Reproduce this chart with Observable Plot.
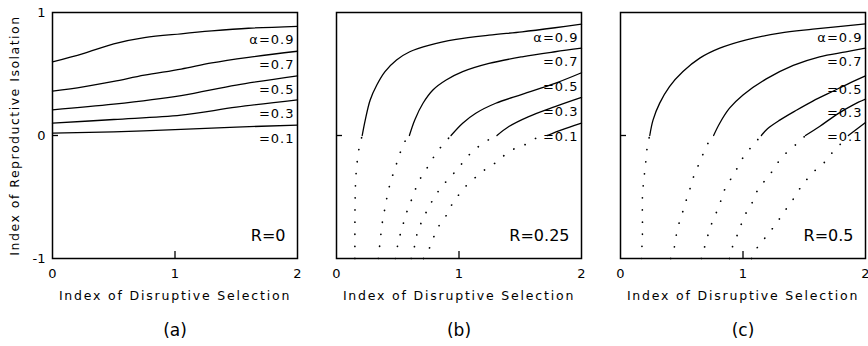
<!DOCTYPE html>
<html><head><meta charset="utf-8">
<script src="https://cdn.jsdelivr.net/npm/d3@7"></script>
<script src="https://cdn.jsdelivr.net/npm/@observablehq/plot@0.6"></script>
<style>
body{margin:0;background:#fff;}
#chart{width:868px;height:346px;}
</style></head><body><div id="chart"></div>
<script>
const panels = ["a", "b", "c"];
const panelLabels = ["(a)", "(b)", "(c)"];
const rLabels = ["R=0", "R=0.25", "R=0.5"];
const alphas = [0.9, 0.7, 0.5, 0.3, 0.1];
const alphaLabels = ["α=0.9", "=0.7", "=0.5", "=0.3", "=0.1"];
const xTicks = [0, 1, 2];
const yTicks = [-1, 0, 1];
const xTitle = "Index of Disruptive Selection";
const yTitle = "Index of Reproductive Isolation";

// Panel (a), R = 0: [x, y]
const a09 = [[0,0.598],[0.25,0.666],[0.5,0.745],[0.75,0.795],[1.05,0.827],[1.3,0.85],[1.6,0.872],[2,0.888]];
const a07 = [[0,0.36],[0.25,0.395],[0.5,0.44],[0.75,0.49],[1.05,0.54],[1.3,0.59],[1.6,0.635],[2,0.685]];
const a05 = [[0,0.209],[0.5,0.255],[1.05,0.325],[1.5,0.41],[2,0.485]];
const a03 = [[0,0.10],[0.5,0.13],[1.05,0.165],[1.5,0.23],[2,0.29]];
const a01 = [[0,0.02],[0.5,0.03],[1.05,0.05],[1.5,0.068],[2,0.085]];

// Panel (b), R = 0.25
const b09 = [[0.15,-1],[0.151,-0.6],[0.155,-0.4],[0.165,-0.25],[0.185,-0.1],[0.21,0],[0.235,0.127],[0.275,0.289],[0.329,0.41],[0.396,0.519],[0.49,0.614],[0.598,0.681],[0.76,0.735],[0.976,0.781],[1.245,0.816],[1.515,0.843],[1.784,0.876],[2,0.905]];
const b07 = [[0.342,-1],[0.354,-0.88],[0.378,-0.68],[0.40,-0.57],[0.42,-0.46],[0.45,-0.35],[0.48,-0.26],[0.513,-0.16],[0.553,-0.057],[0.595,0],[0.639,0.127],[0.706,0.262],[0.787,0.37],[0.895,0.451],[1.03,0.519],[1.245,0.586],[1.515,0.64],[1.784,0.681],[2,0.71]];
const b05 = [[0.48,-1],[0.50,-0.89],[0.524,-0.79],[0.553,-0.69],[0.585,-0.59],[0.626,-0.49],[0.667,-0.38],[0.73,-0.28],[0.79,-0.18],[0.855,-0.09],[0.935,0],[1.03,0.10],[1.137,0.181],[1.30,0.262],[1.515,0.335],[1.784,0.424],[2,0.51]];
const b03 = [[0.61,-1],[0.637,-0.9],[0.66,-0.79],[0.70,-0.69],[0.75,-0.59],[0.80,-0.50],[0.864,-0.41],[0.937,-0.33],[0.998,-0.26],[1.071,-0.17],[1.134,-0.11],[1.233,-0.04],[1.31,0],[1.407,0.073],[1.569,0.154],[1.784,0.235],[2,0.31]];
const b01 = [[0.71,-1],[0.761,-0.91],[0.80,-0.81],[0.845,-0.72],[0.896,-0.65],[0.937,-0.57],[0.985,-0.50],[1.039,-0.43],[1.112,-0.36],[1.185,-0.30],[1.247,-0.25],[1.32,-0.21],[1.382,-0.15],[1.468,-0.10],[1.549,-0.07],[1.633,-0.02],[1.72,0],[1.838,0.046],[2,0.10]];

// Panel (c), R = 0.5
const c09 = [[0.17,-1],[0.179,-0.8],[0.179,-0.5],[0.187,-0.39],[0.198,-0.29],[0.209,-0.19],[0.22,-0.08],[0.239,0],[0.266,0.127],[0.32,0.263],[0.40,0.398],[0.51,0.52],[0.647,0.629],[0.81,0.71],[1.027,0.778],[1.30,0.832],[1.57,0.864],[2,0.908]];
const c07 = [[0.41,-1],[0.437,-0.92],[0.448,-0.85],[0.473,-0.73],[0.502,-0.64],[0.532,-0.54],[0.562,-0.45],[0.595,-0.34],[0.636,-0.24],[0.679,-0.14],[0.73,-0.035],[0.76,0],[0.81,0.10],[0.89,0.222],[1.0,0.33],[1.19,0.46],[1.41,0.57],[1.625,0.64],[1.84,0.68],[2,0.71]];
const c05 = [[0.66,-1],[0.668,-0.96],[0.695,-0.88],[0.72,-0.79],[0.758,-0.68],[0.807,-0.57],[0.836,-0.47],[0.891,-0.37],[0.95,-0.27],[1.013,-0.16],[1.089,-0.07],[1.15,0],[1.20,0.055],[1.30,0.125],[1.435,0.205],[1.57,0.28],[1.734,0.36],[1.90,0.44],[2,0.485]];
const c03 = [[0.89,-1],[0.899,-0.975],[0.921,-0.88],[0.962,-0.79],[0.994,-0.70],[1.035,-0.61],[1.078,-0.54],[1.114,-0.455],[1.168,-0.38],[1.225,-0.31],[1.285,-0.22],[1.345,-0.15],[1.447,-0.06],[1.51,0],[1.625,0.073],[1.76,0.168],[1.90,0.249],[2,0.295]];
const c01 = [[1.07,-1],[1.13,-0.89],[1.20,-0.81],[1.26,-0.73],[1.317,-0.65],[1.372,-0.57],[1.429,-0.49],[1.484,-0.40],[1.537,-0.34],[1.603,-0.27],[1.673,-0.21],[1.728,-0.14],[1.795,-0.07],[1.86,0],[2,0.105]];

const curves = {a: [a09, a07, a05, a03, a01], b: [b09, b07, b05, b03, b01], c: [c09, c07, c05, c03, c01]};

const rows = [];
panels.forEach(p => curves[p].forEach((pts, i) => pts.forEach(([x, y]) => rows.push({panel: p, alpha: alphas[i], key: p + alphas[i], x, y}))));
const solid = rows.filter(d => d.y >= 0);
const dotted = rows.filter(d => d.y <= 0);
const ends = panels.flatMap(p => curves[p].map((pts, i) => ({panel: p, label: alphaLabels[i], x: pts[pts.length - 1][0], y: pts[pts.length - 1][1]})));

const chart = Plot.plot({
  width: 868, height: 346,
  marginLeft: 52, marginRight: 2, marginTop: 12, marginBottom: 88,
  style: {fontFamily: "DejaVu Sans", fontSize: "13px", background: "white", color: "black", overflow: "visible"},
  fx: {domain: panels, paddingInner: 0.137, paddingOuter: 0, axis: null, label: null},
  x: {domain: [0, 2]},
  y: {domain: [-1, 1]},
  marks: [
    Plot.frame({stroke: "black", strokeWidth: 1.5}),
    Plot.tickY([0], {y: d => d, insetRight: 239, stroke: "black", strokeWidth: 1.3}),
    Plot.tickX([1], {x: d => d, insetTop: 239, stroke: "black", strokeWidth: 1.3}),
    Plot.line(solid, {fx: "panel", x: "x", y: "y", z: "key", stroke: "black", strokeWidth: 1.3, curve: "catmull-rom"}),
    Plot.line(dotted, {fx: "panel", x: "x", y: "y", z: "key", stroke: "black", strokeWidth: 1.7, strokeLinecap: "round", strokeDasharray: "0.1 12", curve: "catmull-rom"}),
    Plot.text(ends, {fx: "panel", x: "x", y: "y", text: "label", textAnchor: "end", dx: -3, dy: 14, fontSize: 13}),
    Plot.text(panels, {fx: d => d, text: (d, i) => rLabels[i], frameAnchor: "bottom-right", textAnchor: "end", dx: -12, dy: -18, fontSize: 16}),
    Plot.axisY(yTicks, {tickSize: 0, tickPadding: 7, fontSize: 13, label: null, tickFormat: d => String(d)}),
    Plot.axisX(xTicks, {tickSize: 0, tickPadding: 10, fontSize: 13, label: null, tickFormat: d => String(d)}),
    Plot.text([yTitle], {fx: () => "a", text: d => d, frameAnchor: "left", textAnchor: "middle", rotate: -90, dx: -38, fontSize: 12.5}),
    Plot.text(panels, {fx: d => d, text: () => xTitle, frameAnchor: "bottom", textAnchor: "middle", dy: 41, fontSize: 12.5}),
    Plot.text(panels, {fx: d => d, text: (d, i) => panelLabels[i], frameAnchor: "bottom", dy: 77, fontSize: 17})
  ]
});
document.getElementById("chart").append(chart);
const allText = d3.select(chart).selectAll("text");
allText.filter(function() { return this.textContent === xTitle; }).style("letter-spacing", "1.8px");
allText.filter(function() { return this.textContent === yTitle; }).style("letter-spacing", "1.5px");
allText.filter(function() { return alphaLabels.includes(this.textContent); }).style("letter-spacing", "1px");
</script></body></html>
